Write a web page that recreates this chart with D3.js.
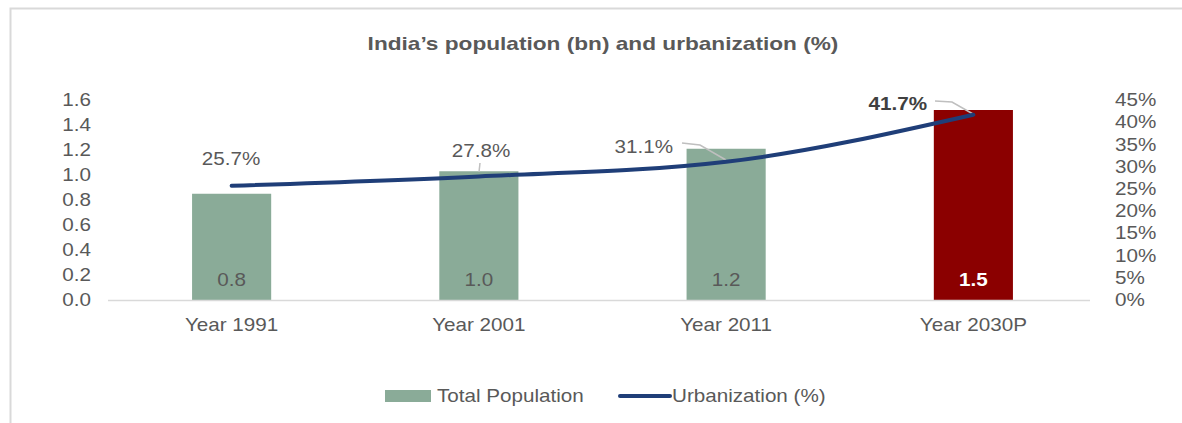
<!DOCTYPE html>
<html>
<head>
<meta charset="utf-8">
<script src="https://cdn.jsdelivr.net/npm/d3@7"></script>
<style>
  body { margin: 0; background: #fff; }
  svg { display: block; font-family: Arial, "Liberation Sans", sans-serif; }
</style>
</head>
<body>
<div id="chart"></div>
<script>
// data
const years = ["Year 1991", "Year 2001", "Year 2011", "Year 2030P"];
const population = [0.85, 1.03, 1.21, 1.52];
const popLabels = ["0.8", "1.0", "1.2", "1.5"];
const urbanization = [25.7, 27.8, 31.1, 41.7];
const leftTicks = [0, 0.2, 0.4, 0.6, 0.8, 1.0, 1.2, 1.4, 1.6];
const rightTicks = [0, 5, 10, 15, 20, 25, 30, 35, 40, 45];

const width = 1182, height = 423;
const FS = "17.5px";   // text in the source is a little wide, so stretch it
const K = 1.18;

const svg = d3.select("#chart").append("svg")
    .attr("width", width)
    .attr("height", height);

// widen text horizontally around its own x position
function stretch(sel) {
    sel.each(function() {
        const t = d3.select(this);
        const x0 = +t.attr("x") || 0;
        t.attr("transform", `translate(${x0 * (1 - K)},0) scale(${K},1)`);
    });
}

// frame (only top and left edges show in the crop)
svg.append("path")
    .attr("d", "M10.5," + height + " V8.5 H" + width)
    .attr("fill", "none")
    .attr("stroke", "#d9d9d9")
    .attr("stroke-width", 2);

// title
svg.append("text")
    .attr("x", 603)
    .attr("y", 50)
    .attr("text-anchor", "middle")
    .attr("font-size", "19.2px")
    .attr("font-weight", "bold")
    .attr("fill", "#595959")
    .text("India\u2019s population (bn) and urbanization (%)")
    .call(stretch);

const x = d3.scaleBand()
    .domain(years)
    .range([108, 1097])
    .paddingInner(0.68)
    .paddingOuter(0.34);

const yL = d3.scaleLinear().domain([0, 1.6]).range([300, 100]);
const yR = d3.scaleLinear().domain([0, 45]).range([300, 100]);

// left axis
const leftAxis = svg.append("g")
    .attr("transform", "translate(91,0)")
    .call(d3.axisLeft(yL).tickValues(leftTicks).tickFormat(d3.format(".1f")).tickSize(0).tickPadding(0));
leftAxis.select(".domain").remove();
leftAxis.selectAll("text")
    .attr("font-size", FS)
    .attr("font-family", "Arial, 'Liberation Sans', sans-serif")
    .attr("fill", "#595959")
    .call(stretch);

// right axis
const rightAxis = svg.append("g")
    .attr("transform", "translate(1115,0)")
    .call(d3.axisRight(yR).tickValues(rightTicks).tickFormat(d => d + "%").tickSize(0).tickPadding(0));
rightAxis.select(".domain").remove();
rightAxis.selectAll("text")
    .attr("font-size", FS)
    .attr("font-family", "Arial, 'Liberation Sans', sans-serif")
    .attr("fill", "#595959")
    .call(stretch);

// bars
svg.selectAll(".bar")
    .data(years)
    .enter().append("rect")
    .attr("class", "bar")
    .attr("x", d => x(d))
    .attr("width", x.bandwidth())
    .attr("y", (d, i) => yL(population[i]))
    .attr("height", (d, i) => yL(0) - yL(population[i]))
    .attr("fill", (d, i) => i === 3 ? "#8b0000" : "#8aab98");

// bar value labels
svg.selectAll(".bar-label")
    .data(years)
    .enter().append("text")
    .attr("class", "bar-label")
    .attr("x", d => x(d) + x.bandwidth() / 2)
    .attr("y", 286)
    .attr("text-anchor", "middle")
    .attr("font-size", FS)
    .attr("font-weight", (d, i) => i === 3 ? "bold" : "normal")
    .attr("fill", (d, i) => i === 3 ? "#fff" : "#595959")
    .text((d, i) => popLabels[i])
    .call(stretch);

// x axis baseline
svg.append("line")
    .attr("x1", 108).attr("x2", 1090)
    .attr("y1", 300.5).attr("y2", 300.5)
    .attr("stroke", "#d9d9d9")
    .attr("stroke-width", 1.5);

// category labels
svg.selectAll(".cat")
    .data(years)
    .enter().append("text")
    .attr("class", "cat")
    .attr("x", d => x(d) + x.bandwidth() / 2)
    .attr("y", 331)
    .attr("text-anchor", "middle")
    .attr("font-size", FS)
    .attr("fill", "#595959")
    .text(d => d)
    .call(stretch);

// urbanization line
const cx = d => x(d) + x.bandwidth() / 2;
const line = d3.line()
    .x(d => cx(d))
    .y((d, i) => yR(urbanization[i]))
    .curve(d3.curveMonotoneX);

// leader lines for labels
const leaders = [
    null,
    [[480, 163], [479, 172]],
    [[682, 143], [700, 145], [726, 160]],
    [[935, 101], [952, 102], [973, 114]]
];
leaders.forEach(l => {
    if (!l) return;
    svg.append("polyline")
        .attr("points", l.map(p => p.join(",")).join(" "))
        .attr("fill", "none")
        .attr("stroke", "#bfbfbf")
        .attr("stroke-width", 1.5);
});

svg.append("path")
    .datum(years)
    .attr("d", line)
    .attr("fill", "none")
    .attr("stroke", "#1f3e78")
    .attr("stroke-width", 4)
    .attr("stroke-linecap", "round");

// line value labels
const labelPos = [
    { x: 231, y: 165, anchor: "middle", bold: false },
    { x: 481, y: 157, anchor: "middle", bold: false },
    { x: 673, y: 153, anchor: "end", bold: false },
    { x: 927, y: 110, anchor: "end", bold: true }
];
svg.selectAll(".urb-label")
    .data(urbanization)
    .enter().append("text")
    .attr("class", "urb-label")
    .attr("x", (d, i) => labelPos[i].x)
    .attr("y", (d, i) => labelPos[i].y)
    .attr("text-anchor", (d, i) => labelPos[i].anchor)
    .attr("font-size", FS)
    .attr("font-weight", (d, i) => labelPos[i].bold ? "bold" : "normal")
    .attr("fill", (d, i) => labelPos[i].bold ? "#404040" : "#595959")
    .text(d => d.toFixed(1) + "%")
    .call(stretch);

// legend
const legend = svg.append("g");
legend.append("rect")
    .attr("x", 385).attr("y", 390)
    .attr("width", 46).attr("height", 12)
    .attr("fill", "#8aab98");
legend.append("text")
    .attr("x", 437).attr("y", 402)
    .attr("font-size", FS)
    .attr("fill", "#595959")
    .text("Total Population")
    .call(stretch);
legend.append("line")
    .attr("x1", 620).attr("x2", 670)
    .attr("y1", 396).attr("y2", 396)
    .attr("stroke", "#1f3e78")
    .attr("stroke-width", 4)
    .attr("stroke-linecap", "round");
legend.append("text")
    .attr("x", 672).attr("y", 402)
    .attr("font-size", FS)
    .attr("fill", "#595959")
    .text("Urbanization (%)")
    .call(stretch);
</script>
</body>
</html>
